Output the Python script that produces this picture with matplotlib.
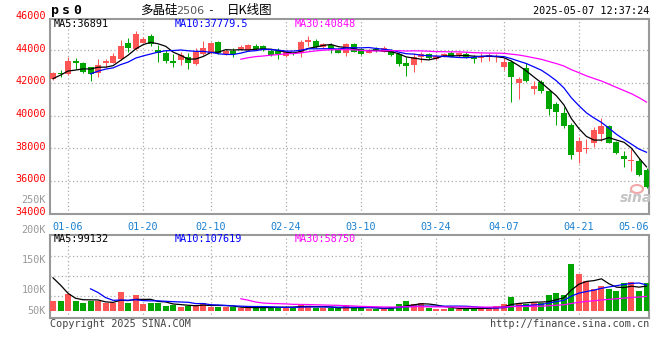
import matplotlib
matplotlib.use("Agg")
import matplotlib.pyplot as plt
from matplotlib.patches import Ellipse
import numpy as np
import pandas as pd

# trading days shown (2025)
dates = [
    "01-02", "01-03", "01-06", "01-07", "01-08", "01-09", "01-10", "01-13", "01-14", "01-15",
    "01-16", "01-17", "01-20", "01-21", "01-22", "01-23", "01-24", "01-27",
    "02-05", "02-06", "02-07", "02-10", "02-11", "02-12", "02-13", "02-14", "02-17", "02-18",
    "02-19", "02-20", "02-21", "02-24", "02-25", "02-26", "02-27", "02-28",
    "03-03", "03-04", "03-05", "03-06", "03-07", "03-10", "03-11", "03-12", "03-13", "03-14",
    "03-17", "03-18", "03-19", "03-20", "03-21", "03-24", "03-25", "03-26", "03-27", "03-28",
    "03-31", "04-01", "04-02", "04-03", "04-07", "04-08", "04-09", "04-10", "04-11", "04-14",
    "04-15", "04-16", "04-17", "04-18", "04-21", "04-22", "04-23", "04-24", "04-25", "04-28",
    "04-29", "04-30", "05-06", "05-07",
]

open_ = np.array([
    42226, 42560, 42514, 43327, 43187, 42942, 42575, 43223, 43223, 43450,
    44410, 44061, 44428, 44856, 44000, 43800, 43346, 43370, 43554, 43162,
    43737, 43800, 44471, 43755, 43957, 44043, 44000, 44263, 44263, 43957,
    43957, 43651, 43820, 43835, 44471, 44569, 44200, 44306, 44043, 43835,
    44367, 44061, 43835, 44061, 43896, 43957, 43737, 43223, 43083, 43554,
    43737, 43431, 43590, 43835, 43676, 43755, 43590, 43492, 43554, 43554,
    42979, 43284, 41963, 42917, 41633, 42061, 41511, 40697, 40165, 39413,
    37780, 37950, 38294, 38863, 39352, 38392, 37535, 37250, 37211, 36661,
])
high = np.array([
    42655, 42777, 43554, 43492, 43266, 42980, 43450, 43430, 43800, 44612,
    44716, 45162, 44795, 44960, 44306, 44000, 43755, 43896, 43800, 44104,
    44550, 44508, 44569, 44050, 44100, 44306, 44367, 44350, 44300, 44050,
    44100, 43950, 43900, 44612, 44856, 44673, 44400, 44410, 44100, 44446,
    44446, 44150, 44050, 44200, 44250, 44050, 43835, 43590, 43800, 43896,
    43835, 43750, 43800, 43950, 43850, 43850, 43694, 43800, 43835, 43755,
    43492, 43388, 42367, 43223, 42122, 42165, 41554, 40838, 40532, 39517,
    38697, 38538, 39272, 39823, 39413, 38450, 37823, 37927, 37376, 36783,
])
low = np.array([
    42165, 42367, 42490, 42820, 42575, 42122, 42367, 42960, 43187, 43388,
    43896, 44000, 44400, 44245, 43284, 43223, 42942, 43083, 42820, 43100,
    43700, 43750, 43755, 43700, 43590, 44000, 43950, 44000, 43950, 43650,
    43450, 43600, 43700, 43590, 44245, 44100, 44100, 43800, 43800, 43633,
    43850, 43700, 43800, 43900, 43850, 43650, 43022, 42410, 42636, 43284,
    43450, 43400, 43550, 43550, 43600, 43500, 43223, 43284, 43346, 43284,
    42777, 40838, 41003, 42060, 41309, 41352, 40025, 39413, 39211, 37333,
    37107, 37682, 38086, 38453, 38300, 37650, 36863, 36600, 36300, 35600,
])
close = np.array([
    42575, 42530, 43327, 43187, 42636, 42514, 43083, 43346, 43651, 44245,
    44104, 44979, 44673, 44350, 43800, 43346, 43187, 43694, 43187, 43859,
    44104, 44410, 43800, 43940, 43755, 44200, 44306, 44061, 44000, 43694,
    43755, 43859, 43780, 44508, 44612, 44165, 44367, 44043, 43835, 44367,
    43896, 43755, 44000, 43939, 44104, 43694, 43144, 43022, 43590, 43737,
    43492, 43633, 43755, 43590, 43800, 43554, 43431, 43633, 43713, 43633,
    43266, 42367, 42226, 42122, 41798, 41492, 40392, 40226, 39352, 37578,
    38453, 38000, 39107, 39352, 38330, 37719, 37315, 37280, 36355, 35639,
])
# volume in lots
volume = np.array([
    42500, 42500, 72000, 42500, 34000, 40000, 40000, 31500, 31500, 79500,
    32000, 67000, 30000, 34000, 34000, 21000, 24000, 17000, 20000, 24000,
    34000, 17000, 17000, 17000, 14500, 10000, 10000, 14500, 17000, 17000,
    15500, 10000, 17000, 28500, 21000, 10000, 10000, 10000, 10000, 24000,
    10000, 11500, 8500, 8500, 8500, 17000, 28500, 41000, 28500, 33000,
    11500, 8500, 8500, 11500, 8500, 10000, 10000, 8500, 15500, 20000,
    28500, 58000, 33000, 28500, 33000, 31500, 67000, 75000, 67000, 199000,
    156000, 126000, 92000, 105000, 94000, 84000, 117000, 122000, 84000, 117000,
])
# the four sessions before the window (contract listed late Dec 2024), only used for the averages
pre_close = [41430, 42097, 42882, 42266]
pre_volume = [197000, 247000, 148000, 65000]

tick_labels = ["01-06", "01-20", "02-10", "02-24", "03-10", "03-24", "04-07", "04-21", "05-06"]
price_levels = [34000, 36000, 38000, 40000, 42000, 44000, 46000]

RED = "#ff5555"
GREEN = "#00a600"
GRID = "#aaaaaa"
FRAME = "#999999"
MONO = "DejaVu Sans Mono"
CJK = ["Noto Sans CJK SC", "DejaVu Sans"]

W, H = 660, 360
fig = plt.figure(figsize=(W / 100, H / 100), dpi=100)


def box(x0, y0, x1, y1):
    return [x0 / W, 1 - y1 / H, (x1 - x0) / W, (y1 - y0) / H]


def ftext(px, py, s, **kw):
    fig.text(px / W, 1 - py / H, s, **kw)


axp = fig.add_axes(box(50, 18.7, 649.3, 213.7))
axv = fig.add_axes(box(50, 234.7, 649.3, 318.3))

x = np.arange(len(dates))
colors = np.where(close >= open_, RED, GREEN)

# moving averages (with the pre-window sessions)
cs = pd.Series(np.concatenate([pre_close, close]))
vs = pd.Series(np.concatenate([pre_volume, volume]))
n0 = len(pre_close)
ma_style = [(5, "black"), (10, "#0000ff"), (30, "#ff00ff")]

# --- price panel
axp.vlines(x, low, high, colors=colors, lw=0.75, zorder=3)
body = np.maximum(np.abs(close - open_), 60)
axp.bar(x, body, bottom=np.minimum(open_, close), width=0.8, color=colors, lw=0, zorder=3)
for n, c in ma_style:
    axp.plot(x, cs.rolling(n).mean().values[n0:], color=c, lw=0.9, zorder=4)

axp.set_xlim(-0.4, 79.37)
axp.set_ylim(34000, 45915)

# --- volume panel
axv.bar(x, volume, width=0.8, color=colors, lw=0, zorder=3)
for n, c in ma_style:
    axv.plot(x, vs.rolling(n).mean().values[n0:], color=c, lw=0.9, zorder=4)
axv.set_xlim(-0.4, 79.37)
axv.set_ylim(-32300, 323400)

tick_pos = [dates.index(d) for d in tick_labels]
for ax in (axp, axv):
    ax.set_xticks([])
    ax.set_yticks([])
    for sp in ax.spines.values():
        sp.set_color(FRAME)
        sp.set_linewidth(1.5)
    for p in tick_pos[:-1]:
        ax.axvline(p, color=GRID, lw=0.9, ls=(0, (1, 2)), zorder=1)

for v in price_levels[1:-1]:
    axp.axhline(v, color=GRID, lw=0.9, ls=(0, (1, 2)), zorder=1)
for f in (0.27, 0.51, 0.749):
    axv.axhline(-32300 + f * 355700, color=GRID, lw=0.9, ls=(0, (1, 2)), zorder=1)

# price labels
for v in price_levels:
    axp.text(-0.0067, v + 90, str(v), transform=axp.get_yaxis_transform(), ha="right",
             va="center", color="#ff0000", fontsize=7.3, family=MONO)
ftext(46, 200, "250K", ha="right", va="center", color=FRAME, fontsize=7.3, family=MONO)

# volume labels (as placed by the original chart)
for lab, py in [("200K", 229.7), ("150K", 259.7), ("100K", 290.3), ("50K", 310.7)]:
    ftext(46, py, lab, ha="right", va="center", color=FRAME, fontsize=7.3, family=MONO)

# date labels
for p, lab in zip(tick_pos, tick_labels):
    if lab == tick_labels[-1]:
        axp.text(1.0, -0.04, lab, transform=axp.transAxes, ha="right", va="top",
                 color="#1a80d0", fontsize=7.3, family=MONO)
    else:
        axp.text(p, -0.04, lab, transform=axp.get_xaxis_transform(), ha="center", va="top",
                 color="#1a80d0", fontsize=7.3, family=MONO)

# MA legends
for py, labs in [(23.7, ["MA5:36891", "MA10:37779.5", "MA30:40848"]),
                 (238.7, ["MA5:99132", "MA10:107619", "MA30:58750"])]:
    for px, s, (n, c) in zip([53.5, 175, 295], labs, ma_style):
        ftext(px, py, s, ha="left", va="center", color=c, fontsize=7.3, family=MONO)

# header
for px, ch in zip([54.5, 66, 77.7], "ps0"):
    ftext(px, 10.5, ch, ha="center", va="center", fontsize=9.5, weight="bold", family=MONO)
ftext(140, 10.5, "多晶硅", ha="left", va="center", fontsize=9, family=CJK)
ftext(176, 11, "2506", ha="left", va="center", fontsize=8, color="#555555", family="DejaVu Sans")
ftext(210, 10.5, "-", ha="center", va="center", fontsize=8, family=MONO)
ftext(226.5, 10.5, "日K线图", ha="left", va="center", fontsize=9, family=CJK)
ftext(649.3, 11.5, "2025-05-07 12:37:24", ha="right", va="center", fontsize=7.3, family=MONO)

# footer
ftext(50, 324, "Copyright 2025 SINA.COM", ha="left", va="center", fontsize=7.3,
      color="#444444", family=MONO)
ftext(649.3, 324, "http://finance.sina.com.cn", ha="right", va="center", fontsize=7.3,
      color="#444444", family=MONO)

# watermark (eye logo + word)
eye = Ellipse((637 / W, 1 - 189 / H), 12 / W, 8 / H, transform=fig.transFigure,
              facecolor="none", edgecolor="#f2a8a8", lw=1.5, zorder=5)
fig.add_artist(eye)
ftext(636, 198, "sina", ha="center", va="center", fontsize=10, style="italic",
      weight="bold", color="#c4c4c4", family="DejaVu Sans")

fig.savefig("out.png", dpi=100)
